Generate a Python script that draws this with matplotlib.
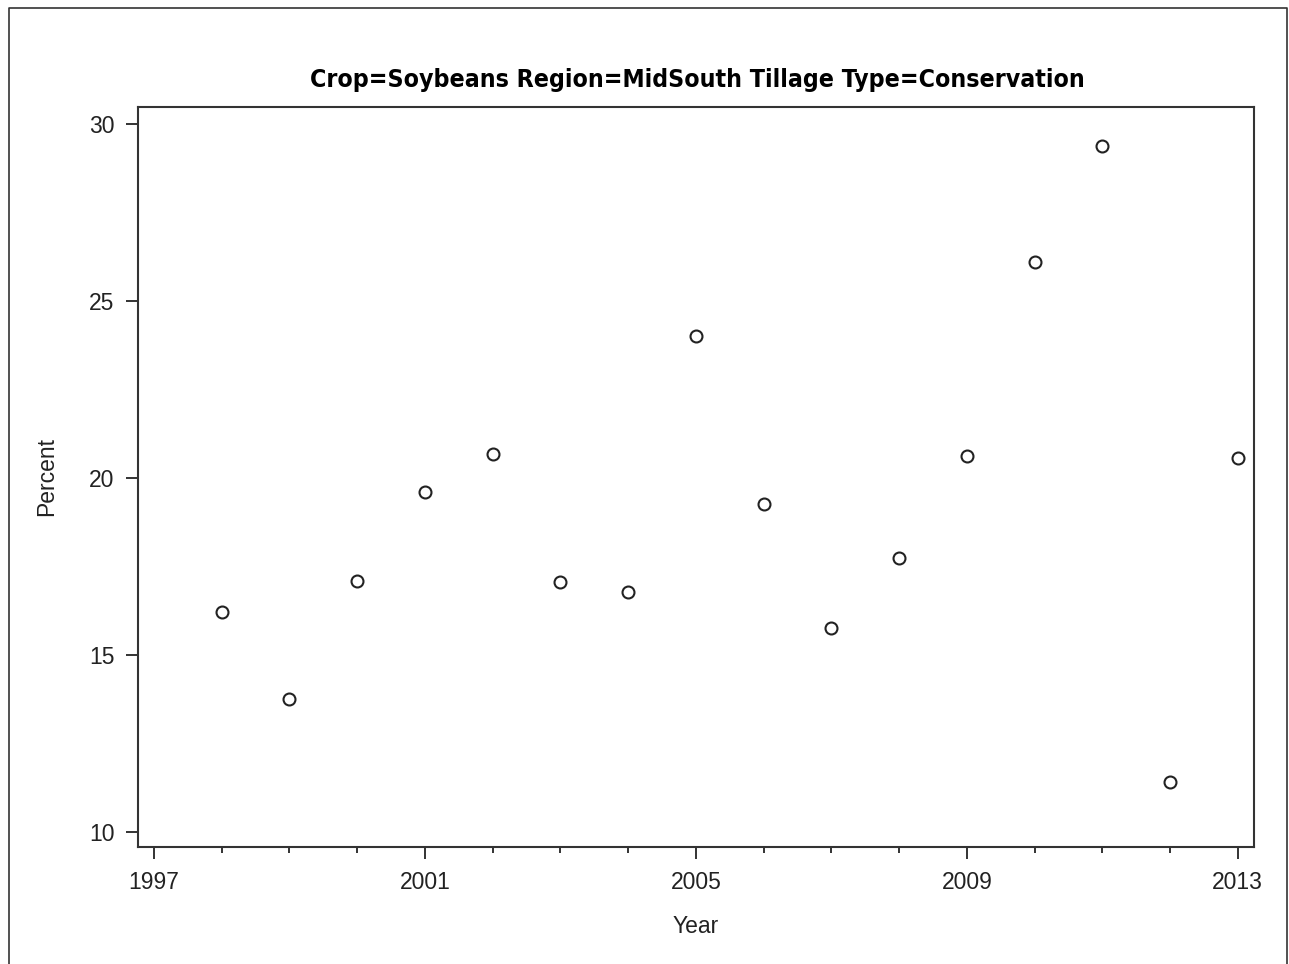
import numpy as np
import matplotlib
matplotlib.use("Agg")
import matplotlib.pyplot as plt
from matplotlib.lines import Line2D
from matplotlib.ticker import MultipleLocator

# data
years = [1998, 1999, 2000, 2001, 2002, 2003, 2004, 2005,
         2006, 2007, 2008, 2009, 2010, 2011, 2012, 2013]
percent = [16.22, 13.75, 17.08, 19.60, 20.68, 17.06, 16.78, 24.02,
           19.27, 15.76, 17.74, 20.63, 26.10, 29.38, 11.41, 20.56]
xticks = [1997, 2001, 2005, 2009, 2013]
yticks = [10, 15, 20, 25, 30]

title = "Crop=Soybeans Region=MidSouth Tillage Type=Conservation"

W, H = 1289, 964
fig = plt.figure(figsize=(W / 100, H / 100), dpi=100)
plt.rcParams['font.family'] = ['Liberation Sans', 'DejaVu Sans']

# axes box in pixels: left 137, right 1254, top 107, bottom 847
ax = fig.add_axes([137.5 / W, 1 - 847 / H, (1254 - 137.5) / W, (847 - 107) / H])

ax.plot(years, percent, linestyle='none', marker='o', markersize=8.6,
        markerfacecolor='white', markeredgecolor='#222222', markeredgewidth=1.5)

ax.set_xlim(1996.756, 2013.24)
ax.set_ylim(9.576, 30.48)
ax.set_xticks(xticks)
ax.set_yticks(yticks)
ax.xaxis.set_minor_locator(MultipleLocator(1))
ax.tick_params(axis='both', which='major', length=8.5, width=1.4, color='#333333',
               labelsize=16.5, labelcolor='#222222')
ax.tick_params(axis='x', which='minor', length=4.5, width=1.4, color='#333333')
ax.tick_params(axis='x', which='major', pad=9)
ax.tick_params(axis='y', which='major', pad=8)
for s in ax.spines.values():
    s.set_linewidth(1.5)
    s.set_color('#333333')

ax.set_xlabel("Year", fontsize=16.5, color='#222222', labelpad=15)
ax.set_ylabel("Percent", fontsize=16.5, color='#222222', labelpad=22)

fig.text(697 / W, 1 - 80.5 / H, title, ha='center', va='center',
         fontsize=17.8, fontweight='bold', fontstretch='condensed', color='black',
         family=['DejaVu Sans', 'Liberation Sans'])

# outer frame (bottom edge falls outside the picture)
bx = [8.5 / W, 8.5 / W, 1287 / W, 1287 / W]
by = [0, 1 - 7.5 / H, 1 - 7.5 / H, 0]
fig.add_artist(Line2D(bx, by, transform=fig.transFigure, color='#333333', linewidth=1.2))

fig.savefig("out.png", dpi=100)
